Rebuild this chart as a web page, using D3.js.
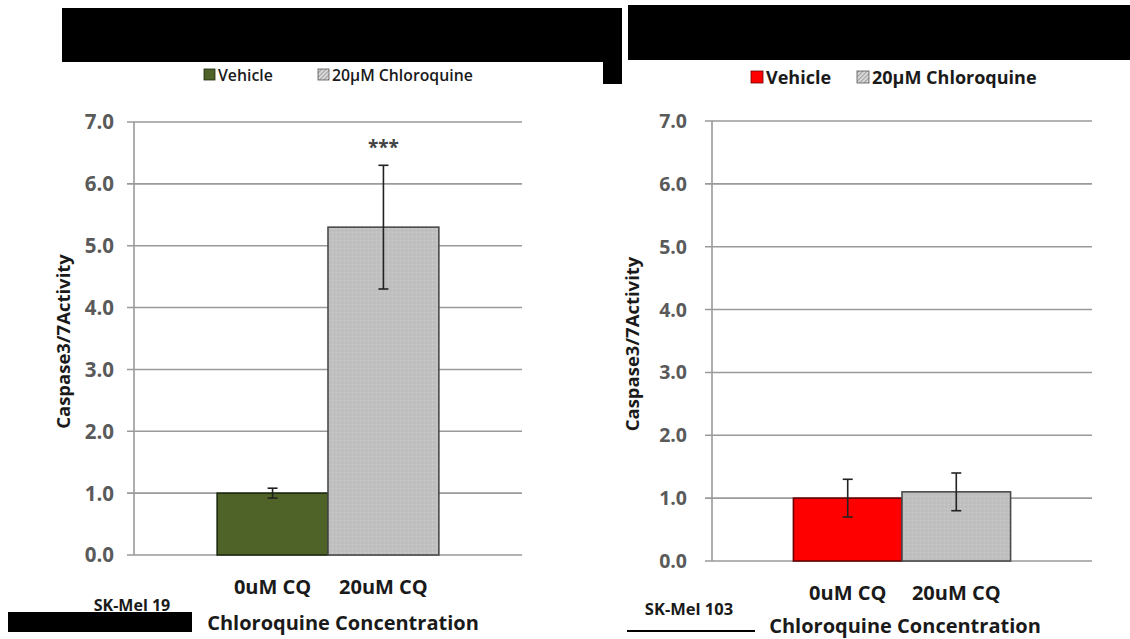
<!DOCTYPE html>
<html><head><meta charset="utf-8">
<script src="https://cdn.jsdelivr.net/npm/d3@7/dist/d3.min.js"></script>
<style>
body{margin:0;background:#fff;}
svg{display:block;font-family:"Open Sans",sans-serif;}
</style></head>
<body>
<svg id="chart" width="1130" height="639"></svg>
<script>
const categories = ["0uM CQ", "20uM CQ"];
const seriesNames = ["Vehicle", "20µM Chloroquine"];
const yTicks = [0, 1, 2, 3, 4, 5, 6, 7];
const mel19Values = [1.0, 5.3];
const mel19Errors = [0.08, 1.0];
const mel103Values = [1.0, 1.1];
const mel103Errors = [0.3, 0.3];
const cellLines = ["SK-Mel 19", "SK-Mel 103"];
const yTitle = "Caspase3/7Activity";
const xTitle = "Chloroquine Concentration";
const significance = ["", "***"];

const svg = d3.select("#chart");
const defs = svg.append("defs");
const pat = defs.append("pattern").attr("id","dots").attr("patternUnits","userSpaceOnUse")
  .attr("width",4).attr("height",4);
pat.append("rect").attr("width",4).attr("height",4).attr("fill","#c0c0c0");
pat.append("rect").attr("x",0).attr("y",0).attr("width",1).attr("height",1).attr("fill","#cdcdcd");
pat.append("rect").attr("x",2).attr("y",2).attr("width",1).attr("height",1).attr("fill","#b6b6b6");
const hatch = defs.append("pattern").attr("id","hatch").attr("patternUnits","userSpaceOnUse")
  .attr("width",3).attr("height",3).attr("patternTransform","rotate(45)");
hatch.append("rect").attr("width",3).attr("height",3).attr("fill","#d8d8d8");
hatch.append("line").attr("x1",0).attr("y1",0).attr("x2",0).attr("y2",3).attr("stroke","#666").attr("stroke-width",1);

function panel(cfg){
  const g = svg.append("g");
  const y = d3.scaleLinear().domain([0,7]).range([cfg.y0, cfg.y7]);
  const x = d3.scaleBand().domain(categories).range([cfg.ax, cfg.ax2]).paddingInner(0).paddingOuter(0.75);
  g.append("g").selectAll("line").data(yTicks).join("line")
    .attr("x1", cfg.ax - 7).attr("x2", cfg.ax2)
    .attr("y1", d=>y(d)).attr("y2", d=>y(d))
    .attr("stroke","#9a9a9a").attr("stroke-width",1.6);
  g.append("line").attr("x1",cfg.ax).attr("x2",cfg.ax).attr("y1",y(0)).attr("y2",y(7))
    .attr("stroke","#9a9a9a").attr("stroke-width",1.6);
  g.append("g").selectAll("text").data(yTicks).join("text")
    .attr("x", cfg.ax - cfg.tickOff).attr("y", d=>y(d)).attr("dy","0.36em")
    .attr("text-anchor","end").attr("font-size",cfg.tickSize).attr("font-weight",700)
    .attr("fill","#5a5a5a").text(d=>d.toFixed(1));
  g.append("g").selectAll("rect").data(cfg.values).join("rect")
    .attr("x",(d,i)=>x(categories[i])).attr("width",x.bandwidth())
    .attr("y",d=>y(d)).attr("height",d=>y(0)-y(d))
    .attr("fill",(d,i)=> i===0 ? cfg.color : "url(#dots)")
    .attr("stroke",(d,i)=> i===0 ? cfg.stroke : "#4a4a4a").attr("stroke-width",1.6);
  const eb = g.append("g").attr("stroke","#222").attr("stroke-width",1.6);
  cfg.values.forEach((v,i)=>{
    const cx = x(categories[i]) + x.bandwidth()/2;
    const e = cfg.errors[i];
    eb.append("line").attr("x1",cx).attr("x2",cx).attr("y1",y(v-e)).attr("y2",y(v+e));
    eb.append("line").attr("x1",cx-5).attr("x2",cx+5).attr("y1",y(v-e)).attr("y2",y(v-e));
    eb.append("line").attr("x1",cx-5).attr("x2",cx+5).attr("y1",y(v+e)).attr("y2",y(v+e));
    if (cfg.sig[i]) {
      g.append("text").attr("x",cx).attr("y",y(v+e)-11).attr("text-anchor","middle")
        .attr("font-size",19).attr("font-weight",700).attr("fill","#444").text(cfg.sig[i]);
    }
  });
  g.append("g").selectAll("text").data(categories).join("text")
    .attr("x",d=>x(d)+x.bandwidth()/2).attr("y",cfg.y0+39)
    .attr("text-anchor","middle").attr("font-size",20).attr("font-weight",700)
    .attr("fill","#1a1a1a").text(d=>d);
  g.append("text").attr("x",cfg.xtx).attr("y",cfg.y0+cfg.xtDy).attr("text-anchor","middle")
    .attr("font-size",20).attr("font-weight",700).attr("fill","#1a1a1a").text(xTitle);
  g.append("text").attr("transform",`translate(${cfg.ytx},${(y(0)+y(7))/2+3}) rotate(-90)`)
    .attr("text-anchor","middle").attr("font-size",18.5).attr("font-weight",700)
    .attr("fill","#1a1a1a").text(yTitle);
  g.append("text").attr("x",cfg.cellX).attr("y",cfg.cellY).attr("text-anchor","middle")
    .attr("font-size",cfg.cellSize).attr("font-weight",700).attr("fill","#1a1a1a").text(cfg.cell);
  const lg = g.append("g").attr("font-size",cfg.legSize).attr("font-weight",cfg.legWeight).attr("fill","#1a1a1a");
  lg.append("rect").attr("x",cfg.leg[0]).attr("y",cfg.legY - cfg.sq - 1).attr("width",cfg.sq).attr("height",cfg.sq)
    .attr("fill",cfg.color).attr("stroke",cfg.stroke).attr("stroke-width",0.8);
  lg.append("text").attr("x",cfg.leg[0]+cfg.sq+3).attr("y",cfg.legY).text(seriesNames[0]);
  lg.append("rect").attr("x",cfg.leg[1]).attr("y",cfg.legY - cfg.sq - 1).attr("width",cfg.sq).attr("height",cfg.sq)
    .attr("fill","url(#hatch)").attr("stroke","#555").attr("stroke-width",0.8);
  lg.append("text").attr("x",cfg.leg[1]+cfg.sq+3).attr("y",cfg.legY).text(seriesNames[1]);
}

panel({ax:134, ax2:522, y0:555, y7:122, values:mel19Values, errors:mel19Errors,
  color:"#4f6228", stroke:"#1e2a0e", sig:significance, xtx:343, xtDy:75, ytx:70,
  tickOff:20, tickSize:20.5,
  cell:cellLines[0], cellX:132, cellY:611, cellSize:16, leg:[204,318], legY:81, sq:11, legSize:15.8, legWeight:600});
panel({ax:712, ax2:1092, y0:561, y7:121, values:mel103Values, errors:mel103Errors,
  color:"#ff0000", stroke:"#6a0000", sig:["",""], xtx:905, xtDy:72, ytx:639,
  tickOff:25, tickSize:19.5,
  cell:cellLines[1], cellX:689, cellY:615, cellSize:16.5, leg:[751,857], legY:84, sq:12, legSize:18, legWeight:700});

svg.append("rect").attr("x",62).attr("y",8).attr("width",560).attr("height",54).attr("fill","#000");
svg.append("rect").attr("x",603).attr("y",60).attr("width",19).attr("height",24).attr("fill","#000");
svg.append("rect").attr("x",628).attr("y",5).attr("width",502).attr("height",55).attr("fill","#000");
svg.append("rect").attr("x",8).attr("y",612).attr("width",184).attr("height",20).attr("fill","#000");
svg.append("line").attr("x1",627).attr("x2",755).attr("y1",631).attr("y2",631).attr("stroke","#000").attr("stroke-width",2);
</script>
</body></html>
